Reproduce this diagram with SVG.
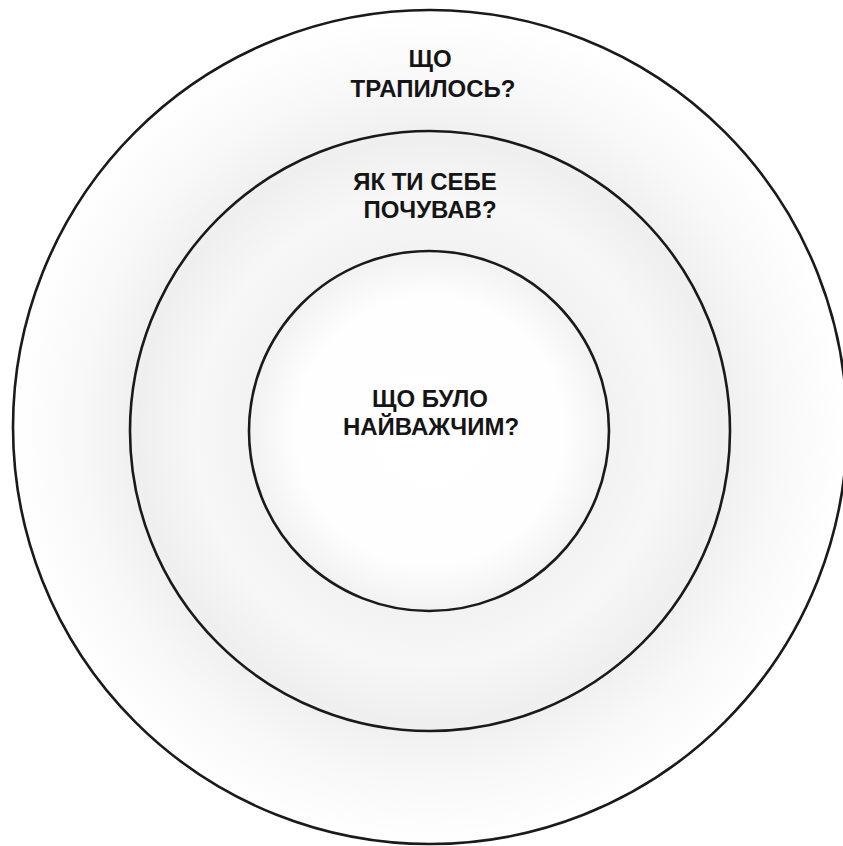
<svg xmlns="http://www.w3.org/2000/svg" width="843" height="846" viewBox="0 0 843 846">
  <defs>
    <radialGradient id="haze" gradientUnits="userSpaceOnUse" cx="430" cy="431" r="417">
      <stop offset="0" stop-color="#ffffff"/>
      <stop offset="0.32" stop-color="#fefefe"/>
      <stop offset="0.43" stop-color="#f2f2f2"/>
      <stop offset="0.56" stop-color="#f7f7f7"/>
      <stop offset="0.7" stop-color="#efefef"/>
      <stop offset="0.84" stop-color="#f8f8f8"/>
      <stop offset="1" stop-color="#ffffff"/>
    </radialGradient>
  </defs>
  <style>
    .ring { fill: none; stroke: #1a1a1a; stroke-width: 2.6; }
    .lbl { font-family: "Liberation Sans", "DejaVu Sans", sans-serif; font-weight: bold; font-size: 24px; fill: #151515; text-anchor: middle; }
  </style>
  <rect x="0" y="0" width="843" height="846" fill="#ffffff"/>
  <circle cx="430" cy="427" r="417" fill="url(#haze)"/>
  <g id="outer">
    <circle class="ring" cx="430" cy="427" r="417"/>
    <text class="lbl" x="430" y="67">ЩО</text>
    <text class="lbl" x="433" y="97">ТРАПИЛОСЬ?</text>
  </g>
  <g id="middle">
    <circle class="ring" cx="430" cy="431" r="300"/>
    <text class="lbl" x="425" y="190">ЯК ТИ СЕБЕ</text>
    <text class="lbl" x="430" y="218">ПОЧУВАВ?</text>
  </g>
  <g id="inner">
    <circle class="ring" cx="429" cy="431" r="180" stroke-width="2.2"/>
    <text class="lbl" x="430" y="407">ЩО БУЛО</text>
    <text class="lbl" x="431" y="435">НАЙВАЖЧИМ?</text>
  </g>
</svg>
